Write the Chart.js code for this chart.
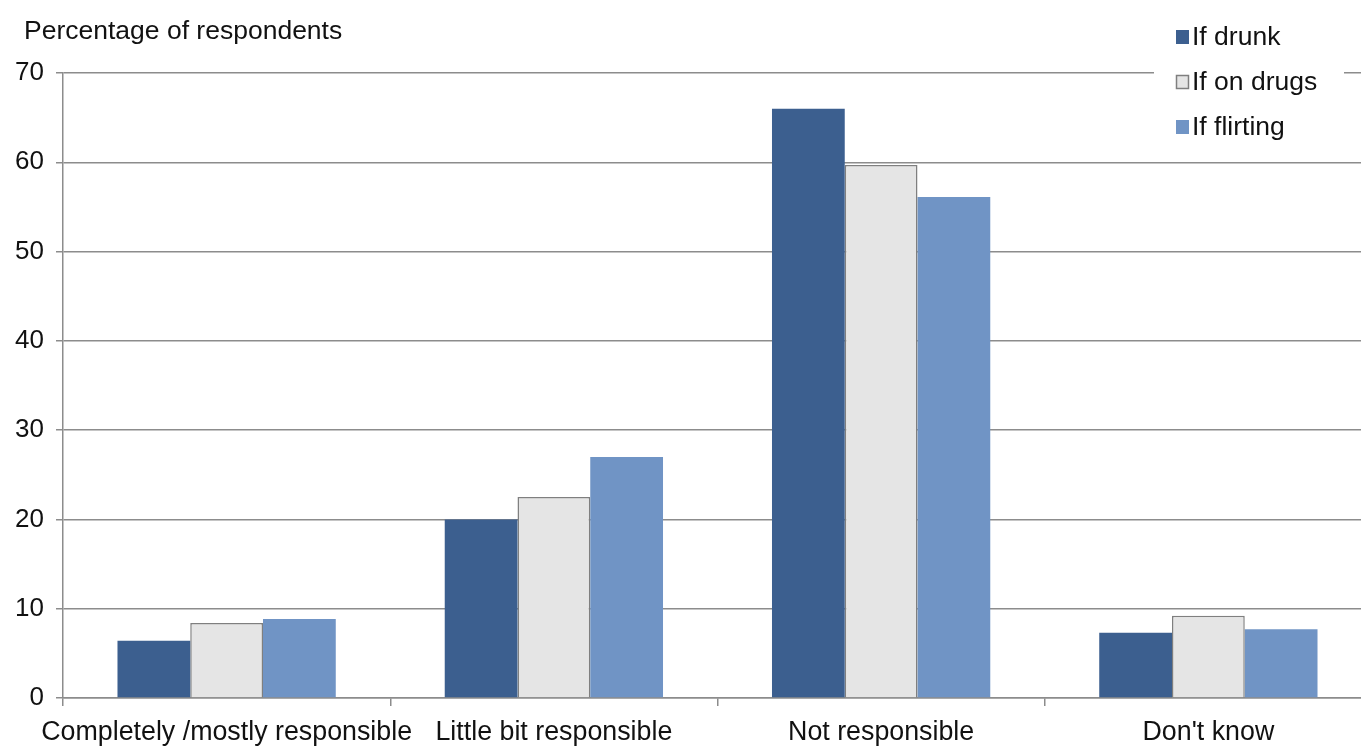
<!DOCTYPE html>
<html>
<head>
<meta charset="utf-8">
<script src="https://cdn.jsdelivr.net/npm/chart.js@4"></script>
<style>
  html, body { margin: 0; padding: 0; background: #fff; overflow: hidden; }
  #frame { width: 1361px; height: 746px; overflow: hidden; position: relative; }
  #wrap { width: 1372px; height: 746px; position: absolute; left: 0; top: 0; }
</style>
</head>
<body>
<div id="frame"><div id="wrap"><canvas id="chart"></canvas></div></div>
<script>
const categories = ['Completely /mostly responsible', 'Little bit responsible', 'Not responsible', "Don't know"];
const seriesNames = ['If drunk', 'If on drugs', 'If flirting'];
const drunk = [6.4, 20.0, 66.0, 7.3];
const onDrugs = [8.4, 22.5, 59.7, 9.2];
const flirting = [8.85, 27.0, 56.1, 7.7];
const yTicks = [0, 10, 20, 30, 40, 50, 60, 70];

const FONT = 'Liberation Sans, Arial, sans-serif';
const colors = ['#3c5f8f', '#e5e5e5', '#7094c5'];
const borders = ['#3c5f8f', '#7f7f7f', '#7094c5'];

// axis caption and boxed legend drawn straight onto the canvas
const extras = {
    id: 'extras',
    afterDraw(chart) {
        const ctx = chart.ctx;
        ctx.save();
        ctx.fillStyle = '#111';
        ctx.font = '26.5px ' + FONT;
        ctx.textBaseline = 'middle';
        ctx.textAlign = 'left';
        ctx.fillText('Percentage of respondents', 24, 32);

        ctx.fillStyle = '#fff';
        ctx.fillRect(1154, 14, 190, 140);
        chart.data.datasets.forEach((ds, i) => {
            const y = 37 + i * 45;
            ctx.fillStyle = ds.backgroundColor;
            ctx.fillRect(1176, y - 7, 13, 14);
            if (i === 1) {
                ctx.strokeStyle = ds.borderColor;
                ctx.lineWidth = 1.5;
                ctx.strokeRect(1176.5, y - 6.5, 12, 13);
            }
            ctx.fillStyle = '#111';
            ctx.fillText(ds.label, 1192, y + 1);
        });
        ctx.restore();
    }
};

const seriesData = [drunk, onDrugs, flirting];

new Chart(document.getElementById('chart'), {
    type: 'bar',
    data: {
        labels: categories,
        datasets: seriesNames.map((name, i) => ({
            label: name,
            data: seriesData[i],
            backgroundColor: colors[i],
            borderColor: borders[i],
            borderWidth: i === 1 ? 1.5 : 0,
            borderSkipped: 'bottom',
            barPercentage: 1.0,
            categoryPercentage: 0.667
        }))
    },
    options: {
        responsive: true,
        maintainAspectRatio: false,
        animation: false,
        layout: { padding: { top: 73, right: 0, bottom: 0, left: 0 } },
        plugins: {
            legend: { display: false },
            tooltip: { enabled: false }
        },
        scales: {
            x: {
                afterFit(scale) { scale.height = 48; },
                grid: {
                    display: true,
                    drawOnChartArea: false,
                    drawTicks: true,
                    tickLength: 8,
                    color: '#8c8c8c',
                    lineWidth: 1.5
                },
                border: { display: true, color: '#8c8c8c', width: 1.5 },
                ticks: {
                    color: '#111',
                    font: { family: FONT, size: 26.8 },
                    padding: 11,
                    maxRotation: 0,
                    autoSkip: false
                }
            },
            y: {
                min: 0,
                max: 70,
                afterFit(scale) { scale.width = 63; },
                afterBuildTicks(scale) { scale.ticks = yTicks.map(v => ({ value: v })); },
                grid: {
                    color: '#8c8c8c',
                    lineWidth: 1.5,
                    tickLength: 7
                },
                border: { display: true, color: '#8c8c8c', width: 1.5 },
                ticks: {
                    color: '#111',
                    font: { family: FONT, size: 26 },
                    padding: 12
                }
            }
        }
    },
    plugins: [extras]
});
</script>
</body>
</html>
